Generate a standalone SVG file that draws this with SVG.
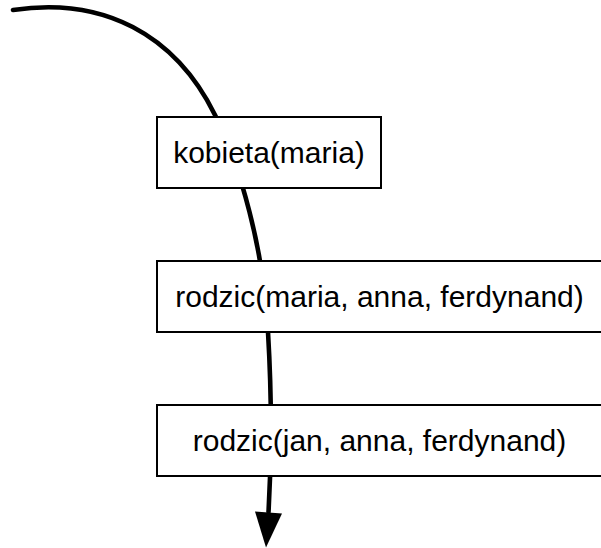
<svg xmlns="http://www.w3.org/2000/svg" width="601" height="548" viewBox="0 0 601 548">
  <style>
    .flow { fill: none; stroke: #000; stroke-width: 4.6; stroke-linecap: round; }
    .head { fill: #000; stroke: none; }
    .box { fill: #fff; stroke: #000; stroke-width: 2; }
    .label { font-family: "Liberation Sans", Arial, Helvetica, sans-serif; font-size: 30px; fill: #000; text-anchor: middle; }
  </style>

  <!-- one continuous execution path running behind the goal boxes -->
  <g id="connectors">
    <path class="flow" d="M13,10 C103,-3.5 175,34 215,115 C240,165 264,250 268,332 C272,400 271,470 268.5,512"/>
    <polygon class="head" points="255,511.6 282,513.4 266,547.5"/>
  </g>

  <g id="goal-kobieta">
    <rect class="box" x="157" y="117" width="224" height="71"/>
    <text class="label" x="269" y="163">kobieta(maria)</text>
  </g>

  <g id="goal-rodzic-maria">
    <rect class="box" x="157" y="261" width="446" height="71"/>
    <text class="label" x="379.5" y="307">rodzic(maria, anna, ferdynand)</text>
  </g>

  <g id="goal-rodzic-jan">
    <rect class="box" x="157" y="405" width="446" height="71"/>
    <text class="label" x="379.5" y="451">rodzic(jan, anna, ferdynand)</text>
  </g>
</svg>
